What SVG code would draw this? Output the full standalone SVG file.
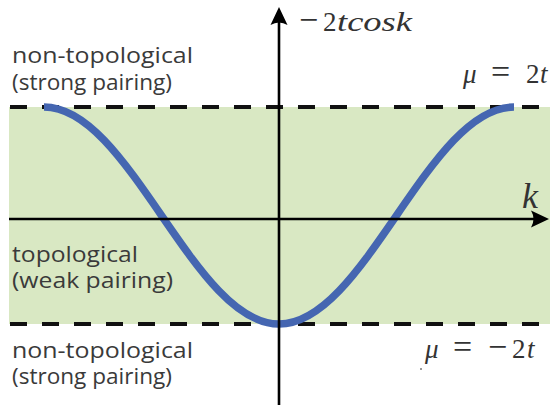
<svg xmlns="http://www.w3.org/2000/svg" width="550" height="405" viewBox="0 0 550 405">
  <style>
    .lbl { font-family: "Open Sans", "Liberation Sans", sans-serif; font-size: 21px; fill: #3a3a3a; }
    .math { font-family: "Liberation Serif", "DejaVu Serif", serif; font-size: 27px; fill: #333; }
    .it { font-style: italic; }
    .big { font-size: 34px; }
    .kk { font-size: 36px; }
    .dash { stroke: #111; stroke-width: 4; stroke-dasharray: 17 15; fill: none; }
    .axis { stroke: #000; stroke-width: 2.6; fill: none; }
    .head { fill: #000; stroke: none; }
  </style>
  <rect width="550" height="405" fill="#ffffff"/>
  <g id="band">
    <rect x="9" y="107" width="541" height="217" fill="#d9e8c3"/>
  </g>
  <g id="boundaries">
    <line class="dash" x1="10" y1="107" x2="550" y2="107"/>
    <line class="dash" x1="10" y1="324" x2="550" y2="324"/>
  </g>
  <g id="curve">
    <path d="M44,107 C86.5,107 123.2,159.9 161.5,215.5 S236.5,324 279,324 S358.2,271.1 396.5,215.5 S471.5,107 514,107" fill="none" stroke="#4566b1" stroke-width="7.5"/>
  </g>
  <g id="connectors">
    <line class="axis" x1="9" y1="219" x2="538" y2="219"/>
    <path class="head" d="M549,219 L531,210.5 Q536,219 531,227.5 Z"/>
    <line class="axis" x1="279" y1="405" x2="279" y2="20"/>
    <path class="head" d="M279,7 L270.5,25 Q279,20 287.5,25 Z"/>
  </g>
  <g id="axis-labels">
    <text class="math" y="31"><tspan class="big" x="299">−</tspan><tspan x="323">2</tspan><tspan class="it" x="337" textLength="75" lengthAdjust="spacingAndGlyphs">tcosk</tspan></text>
    <text class="math it kk" x="522" y="208">k</text>
  </g>
  <g id="mu-labels">
    <text class="math" y="83"><tspan class="it" x="463">μ</tspan><tspan class="big" x="491">=</tspan><tspan x="526">2</tspan><tspan class="it" x="540">t</tspan></text>
    <text class="math" y="358"><tspan class="it" x="425">μ</tspan><tspan class="big" x="453">=</tspan><tspan class="big" x="488">−</tspan><tspan x="512">2</tspan><tspan class="it" x="527">t</tspan></text>
    <circle cx="421" cy="369" r="1" fill="#777"/>
  </g>
  <g id="region-top">
    <text class="lbl" x="12" y="63" textLength="181" lengthAdjust="spacingAndGlyphs">non-topological</text>
    <text class="lbl" x="12" y="90" textLength="160" lengthAdjust="spacingAndGlyphs">(strong pairing)</text>
  </g>
  <g id="region-middle">
    <text class="lbl" x="12" y="262" textLength="126" lengthAdjust="spacingAndGlyphs">topological</text>
    <text class="lbl" x="12" y="288" textLength="161" lengthAdjust="spacingAndGlyphs">(weak pairing)</text>
  </g>
  <g id="region-bottom">
    <text class="lbl" x="12" y="358" textLength="181" lengthAdjust="spacingAndGlyphs">non-topological</text>
    <text class="lbl" x="12" y="384" textLength="160" lengthAdjust="spacingAndGlyphs">(strong pairing)</text>
  </g>
</svg>
